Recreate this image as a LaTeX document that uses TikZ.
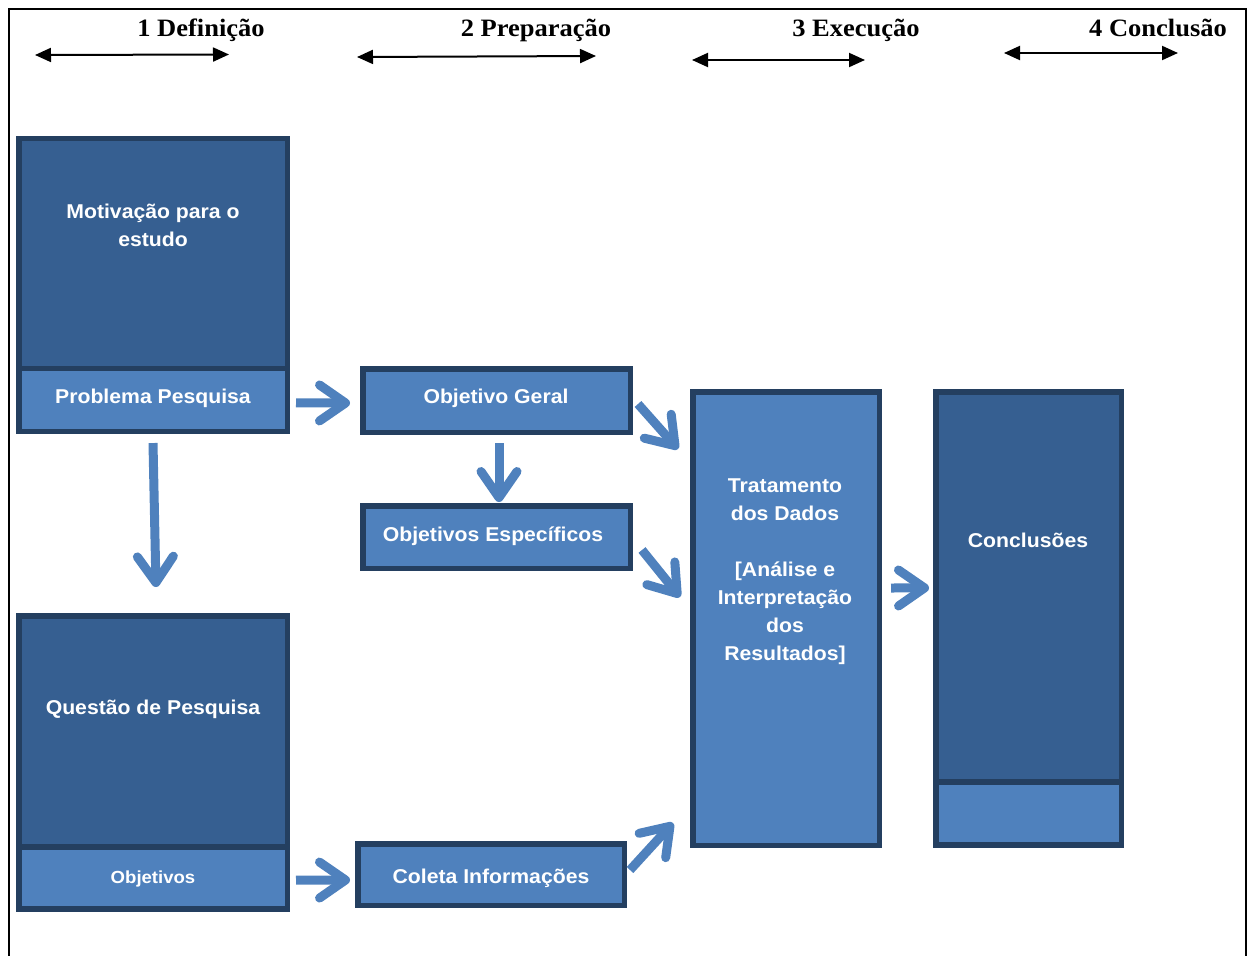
\documentclass[tikz,border=0pt]{standalone}
\usepackage{fontspec}
\setmainfont{Liberation Serif}
\newfontfamily\boxfont{Liberation Sans}[FakeStretch=1.06]
\newfontfamily\headfont{Liberation Serif}[FakeStretch=1.06]
\usetikzlibrary{arrows.meta,calc}

\definecolor{boxdark}{HTML}{365F91}
\definecolor{boxlight}{HTML}{4F81BD}
\definecolor{boxedge}{HTML}{243F60}
\definecolor{flowblue}{HTML}{4F81BD}

% centred stack of lines whose baseline is the first line
\newcommand\linestack[1]{\begin{tabular}[t]{@{}c@{}}#1\end{tabular}}

\tikzset{
  blk/.style={draw=boxedge, line width=5.5pt, inner sep=0pt, rectangle},
  darkblk/.style={blk, fill=boxdark},
  lightblk/.style={blk, fill=boxlight},
  txt/.style={text=white, inner sep=0pt, anchor=base,
    font=\boxfont\bfseries\fontsize{20}{28}\selectfont},
  hdr/.style={inner sep=0pt, anchor=base,
    font=\headfont\bfseries\fontsize{25}{28}\selectfont},
  span/.style={draw=black, line width=2pt,
    {Triangle[length=16pt,width=14pt]}-{Triangle[length=16pt,width=14pt]}},
  flow/.style={draw=flowblue, line width=9pt, line cap=butt,
    -{Straight Barb[length=26pt,width=36pt,round]}},
}

\begin{document}
\begin{tikzpicture}[x=1pt,y=-1pt]
\useasboundingbox (0,0) rectangle (1248,956);
\clip (0,0) rectangle (1248,956);

% page frame
\draw[line width=2pt] (9,970) -- (9,9) -- (1246,9) -- (1246,970);

% phase headings
\node[hdr] (h1) at (201,36) {1 Definição};
\node[hdr] (h2) at (536,36) {2 Preparação};
\node[hdr] (h3) at (856,36) {3 Execução};
\node[hdr] (h4) at (1158,36) {4 Conclusão};

\coordinate (s1a) at (35,55);    \coordinate (s1b) at (229,54.5);
\coordinate (s2a) at (357,57);   \coordinate (s2b) at (596,56);
\coordinate (s3a) at (692,60);   \coordinate (s3b) at (865,60);
\coordinate (s4a) at (1004,53);  \coordinate (s4b) at (1178,53);
\draw[span] (s1a) -- (s1b);
\draw[span] (s2a) -- (s2b);
\draw[span] (s3a) -- (s3b);
\draw[span] (s4a) -- (s4b);

% column 1
\node[darkblk, minimum width=268.5, minimum height=229.75] (mot) at (153,253.6) {};
\node[lightblk, minimum width=268.5, minimum height=62.75] (prob) at (153,399.9) {};
\node[darkblk, minimum width=268.5, minimum height=231.25] (que) at (153,731.4) {};
\node[lightblk, minimum width=268.5, minimum height=62.25] (obj) at (153,878.1) {};

\node[txt] (mot-t) at (153,218) {\linestack{Motivação para o\\estudo}};
\node[txt] (prob-t) at (153,403) {Problema Pesquisa};
\node[txt] (que-t) at (153,714) {Questão de Pesquisa};
\node[txt, font=\boxfont\bfseries\fontsize{17.5}{24}\selectfont] (obj-t) at (153,883.5) {Objetivos};

% column 2
\node[lightblk, minimum width=267.5, minimum height=63.5] (og) at (496.5,400.5) {};
\node[lightblk, minimum width=267.5, minimum height=62.5] (oe) at (496.5,537) {};
\node[lightblk, minimum width=266.5, minimum height=61.5] (col) at (491,874.5) {};

\node[txt] (og-t) at (496,403) {Objetivo Geral};
\node[txt] (oe-t) at (493,541) {Objetivos Específicos};
\node[txt] (col-t) at (491,883) {Coleta Informações};

% column 3
\node[lightblk, minimum width=186.5, minimum height=453.5] (trat) at (786,618.5) {};
\node[txt] (trat-t) at (785,492) {\linestack{Tratamento\\dos Dados\\ \\{}[Análise e\\Interpretação\\dos\\Resultados]}};

% column 4
\node[darkblk, minimum width=185.5, minimum height=390.25] (conc) at (1028.5,586.9) {};
\node[lightblk, minimum width=185.5, minimum height=63.25] (concb) at (1028.5,813.6) {};
\node[txt] (conc-t) at (1028,547) {Conclusões};

% flow arrows
\draw[flow] ([shift={(6,3)}]prob.east) -- ([shift={(-10,2.5)}]og.west);
\draw[flow] ([shift={(5,3.5)}]og.east) -- ([shift={(-12,60)}]trat.north west);
\draw[flow] ([shift={(2.5,8)}]og.south) -- ([shift={(2.5,-1)}]oe.north);
\draw[flow] ([shift={(9,13)}]oe.east) -- ([shift={(-10,-21.5)}]trat.west);
\draw[flow] ([shift={(0,9)}]prob.south) -- ([shift={(3,-26)}]que.north);
\draw[flow] ([shift={(6,2)}]obj.east) -- ([shift={(-5,5.5)}]col.west);
\draw[flow] ([shift={(3,-4.5)}]col.east) -- ([shift={(-17,-25)}]trat.south west);
\draw[flow] ([shift={(9,-30.5)}]trat.east) -- ([shift={(-4,1)}]conc.west);
\end{tikzpicture}
\end{document}
